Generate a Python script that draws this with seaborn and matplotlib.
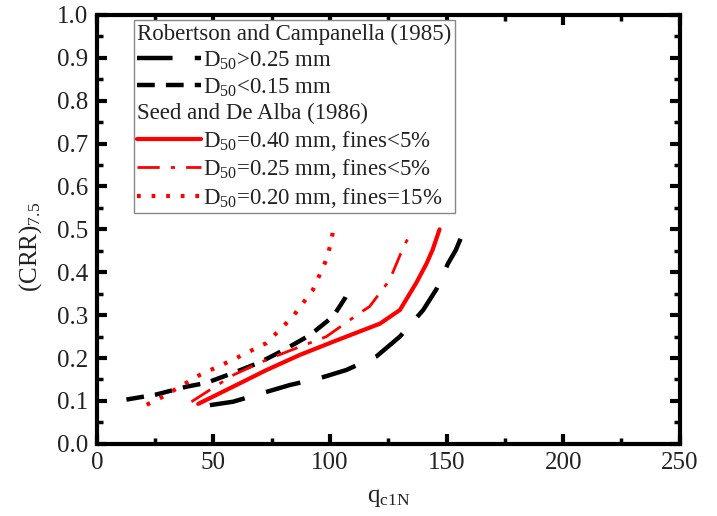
import matplotlib
matplotlib.use("Agg")
import matplotlib.pyplot as plt
import seaborn as sns
from matplotlib.lines import Line2D
from matplotlib.ticker import MultipleLocator

rc_coarse_q = [48.5, 58.4, 72.8, 82.8, 95.6, 107, 120, 130, 140, 145.6, 150.6, 154, 156]
rc_coarse_crr = [0.090, 0.098, 0.121, 0.137, 0.153, 0.172, 0.204, 0.250, 0.312, 0.360, 0.420, 0.452, 0.478]

rc_fine_q = [12.7, 25.6, 38.4, 47, 58.4, 70, 80, 91.3, 101.4, 106.5, 107.5]
rc_fine_crr = [0.103, 0.115, 0.133, 0.142, 0.165, 0.190, 0.218, 0.253, 0.297, 0.340, 0.352]

sd40_q = [43.5, 58.4, 72.8, 87, 101.4, 112.8, 121.4, 130, 137, 141.4, 144, 147]
sd40_crr = [0.093, 0.133, 0.172, 0.207, 0.238, 0.262, 0.280, 0.312, 0.375, 0.420, 0.452, 0.500]

sd25_q = [40.6, 58.4, 72.8, 87, 98.5, 112.8, 117, 125.6, 131, 133.5, 134]
sd25_crr = [0.098, 0.160, 0.196, 0.226, 0.250, 0.305, 0.320, 0.382, 0.452, 0.480, 0.500]

sd20_q = [21.4, 28.4, 35.6, 44, 58.4, 72.8, 84, 92.7, 98.5, 100.5, 101.4]
sd20_crr = [0.091, 0.110, 0.133, 0.160, 0.196, 0.235, 0.296, 0.359, 0.430, 0.470, 0.500]

labels = [r"D$_{50}$>0.25 mm", r"D$_{50}$<0.15 mm",
          r"D$_{50}$=0.40 mm, fines<5%", r"D$_{50}$=0.25 mm, fines<5%",
          r"D$_{50}$=0.20 mm, fines=15%"]
headers = ["Robertson and Campanella (1985)", "Seed and De Alba (1986)"]

sns.set_style("ticks")
plt.rcParams["font.family"] = ["Liberation Serif", "DejaVu Serif"]
plt.rcParams["mathtext.default"] = "regular"

fig = plt.figure(figsize=(7.17, 5.16), dpi=100)
ax = fig.add_axes([0.135, 0.140, 0.813, 0.831])

sns.lineplot(x=rc_coarse_q, y=rc_coarse_crr, ax=ax, sort=False, color="black",
             lw=3.2, linestyle=(0, (8, 5)))
sns.lineplot(x=rc_fine_q, y=rc_fine_crr, ax=ax, sort=False, color="black",
             lw=3.2, linestyle=(0, (4, 2.5)))
sns.lineplot(x=sd40_q, y=sd40_crr, ax=ax, sort=False, color="red", lw=3)
sns.lineplot(x=sd25_q, y=sd25_crr, ax=ax, sort=False, color="red",
             lw=2, linestyle=(0, (8, 4, 1.5, 4)))
sns.lineplot(x=sd20_q, y=sd20_crr, ax=ax, sort=False, color="red",
             lw=3, linestyle=(0, (0.9, 2.6)))

ax.set_xlim(0, 250)
ax.set_ylim(0, 1.0)
ax.xaxis.set_major_locator(MultipleLocator(50))
ax.xaxis.set_minor_locator(MultipleLocator(25))
ax.yaxis.set_major_locator(MultipleLocator(0.1))
ax.yaxis.set_minor_locator(MultipleLocator(0.05))
ax.yaxis.set_major_formatter(matplotlib.ticker.FormatStrFormatter("%.1f"))
ax.tick_params(which="both", direction="in", top=True, right=True,
               colors="black", labelcolor="#222222", labelsize=18, pad=6)
ax.tick_params(which="major", length=7, width=3)
ax.tick_params(which="minor", length=4, width=2.5)
for s in ax.spines.values():
    s.set_linewidth(3)
    s.set_color("black")

ax.set_xlabel(r"q$_{c1N}$", fontsize=18, color="#222222")
ax.set_ylabel(r"(CRR)$_{7.5}$", fontsize=18, color="#222222")
ax.xaxis.set_label_coords(0.5, -0.10)
ax.yaxis.set_label_coords(-0.09, 0.46)

blank = Line2D([], [], color="none")
handles = [blank,
           Line2D([], [], color="black", lw=3.2, linestyle=(0, (8, 5))),
           Line2D([], [], color="black", lw=3.2, linestyle=(0, (4, 2.5))),
           blank,
           Line2D([], [], color="red", lw=3),
           Line2D([], [], color="red", lw=2, linestyle=(0, (8, 4, 1.5, 4))),
           Line2D([], [], color="red", lw=3, linestyle=(0, (0.9, 2.6)))]
texts = [headers[0], labels[0], labels[1], headers[1], labels[2], labels[3], labels[4]]
leg = ax.legend(handles, texts, loc="upper left", bbox_to_anchor=(0.063, 0.988),
                borderaxespad=0, fontsize=16.5, handlelength=2.8, handletextpad=0.1,
                labelspacing=0.2, borderpad=0.15, fancybox=False, framealpha=1,
                edgecolor="#888888")
leg.get_frame().set_linewidth(1)
for t in leg.get_texts():
    t.set_color("#222222")

# header rows: drop the handle so text starts at the frame edge
for row in leg._legend_handle_box.get_children()[0].get_children():
    if row.get_children()[1].get_children()[0].get_text() in headers:
        row.get_children()[0].set_width(0)
        row.sep = 0

fig.savefig("out.png", dpi=100)
